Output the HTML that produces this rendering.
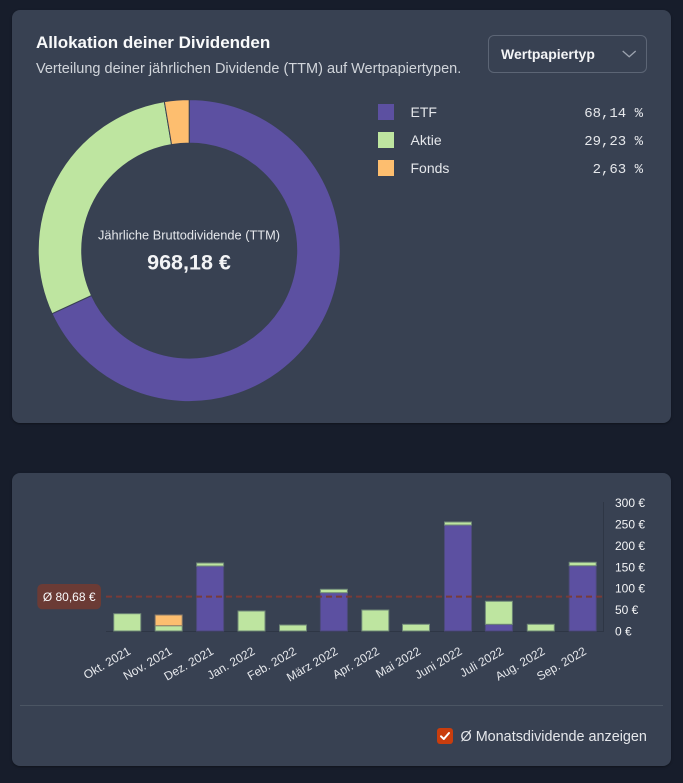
<!DOCTYPE html>
<html><head><meta charset="utf-8"><style>
html,body{margin:0;padding:0;}
body{width:683px;height:783px;background:#171d2b;position:relative;overflow:hidden;font-family:"Liberation Sans",sans-serif;}
.card{position:absolute;background:#384152;border-radius:8px;}
.t{position:absolute;white-space:nowrap;line-height:1;}
</style></head><body>
<div class="card" style="left:12px;top:10px;width:659px;height:413px;box-shadow:0 1px 2px rgba(0,0,0,0.35);"></div>
<div class="card" style="left:12px;top:473px;width:659px;height:293px;box-shadow:0 1px 2px rgba(0,0,0,0.35);"></div>

<div class="t" style="left:36px;top:34px;font-size:17px;font-weight:bold;color:#f9fafb;">Allokation deiner Dividenden</div>
<div class="t" style="left:36px;top:62px;font-size:14.5px;color:#d1d5db;">Verteilung deiner jährlichen Dividende (TTM) auf Wertpapiertypen.</div>

<div style="position:absolute;left:488px;top:35px;width:157px;height:36px;border:1px solid #5c6575;border-radius:6px;"></div>
<div class="t" style="left:501px;top:47px;font-size:14px;font-weight:bold;color:#f3f4f6;">Wertpapiertyp</div>

<svg width="683" height="783" style="position:absolute;left:0;top:0;" xmlns="http://www.w3.org/2000/svg">
  <polyline points="622.7,51 629.2,56.7 635.7,51" fill="none" stroke="#9ca3af" stroke-width="1.3"/>
  <!-- donut -->
  <path d="M189.2,99.6 A151,151 0 1 1 52.02,313.67 L91.54,295.50 A107.5,107.5 0 1 0 189.2,143.1 Z" fill="#5c50a1" stroke="#384152" stroke-width="1"/>
  <path d="M52.02,313.67 A151,151 0 0 1 164.36,101.66 L171.52,144.56 A107.5,107.5 0 0 0 91.54,295.50 Z" fill="#bee5a0" stroke="#384152" stroke-width="1"/>
  <path d="M164.36,101.66 A151,151 0 0 1 189.2,99.6 L189.2,143.1 A107.5,107.5 0 0 0 171.52,144.56 Z" fill="#fdbe6f" stroke="#384152" stroke-width="1"/>
  <text x="189" y="239.5" text-anchor="middle" font-size="12.8" fill="#e5e7eb" font-family="Liberation Sans, sans-serif">Jährliche Bruttodividende (TTM)</text>
  <text x="189" y="269.5" text-anchor="middle" font-size="21.5" font-weight="bold" fill="#f3f4f6" font-family="Liberation Sans, sans-serif">968,18 €</text>

  <!-- legend -->
  <rect x="378" y="104" width="16" height="16" fill="#5c50a1"/>
  <rect x="378" y="132" width="16" height="16" fill="#bee5a0"/>
  <rect x="378" y="160" width="16" height="16" fill="#fdbe6f"/>
  <g font-family="Liberation Sans, sans-serif" font-size="14" fill="#e5e7eb">
    <text x="410.5" y="117">ETF</text>
    <text x="410.5" y="145">Aktie</text>
    <text x="410.5" y="173">Fonds</text>
  </g>
  <g font-family="Liberation Mono, monospace" font-size="14" fill="#e5e7eb" text-anchor="end">
    <text x="643" y="117">68,14 %</text>
    <text x="643" y="145">29,23 %</text>
    <text x="643" y="173">2,63 %</text>
  </g>

  <!-- bar chart axes -->
  <line x1="106" y1="631.5" x2="603" y2="631.5" stroke="#2e3645" stroke-width="1"/>
  <line x1="603.5" y1="502" x2="603.5" y2="632" stroke="#2e3645" stroke-width="1"/>
  <g font-family="Liberation Sans, sans-serif" font-size="12" fill="#f3f4f6">
    <text x="615" y="507">300 €</text>
    <text x="615" y="528.4">250 €</text>
    <text x="615" y="549.8">200 €</text>
    <text x="615" y="571.3">150 €</text>
    <text x="615" y="592.7">100 €</text>
    <text x="615" y="614.1">50 €</text>
    <text x="615" y="635.5">0 €</text>
  </g>

  <!-- bars -->
  <g stroke-width="1">
    <rect x="113.75" y="613.7" width="27" height="17.3" fill="#bee5a0" stroke="#6f8877"/>
    <rect x="155.2" y="625.7" width="27" height="5.3" fill="#bee5a0" stroke="#6f8877"/>
    <rect x="155.2" y="615" width="27" height="10.7" fill="#fdbe6f" stroke="#8b7c6a"/>
    <rect x="196.6" y="566" width="27" height="65" fill="#5c50a1" stroke="#4d4a7c"/>
    <rect x="196.6" y="563" width="27" height="3" fill="#bee5a0" stroke="#6f8877"/>
    <rect x="238" y="611" width="27" height="20" fill="#bee5a0" stroke="#6f8877"/>
    <rect x="279.5" y="625" width="27" height="6" fill="#bee5a0" stroke="#6f8877"/>
    <rect x="320.4" y="592.7" width="27" height="38.3" fill="#5c50a1" stroke="#4d4a7c"/>
    <rect x="320.4" y="589.3" width="27" height="3.4" fill="#bee5a0" stroke="#6f8877"/>
    <rect x="361.8" y="610" width="27" height="21" fill="#bee5a0" stroke="#6f8877"/>
    <rect x="402.5" y="624.3" width="27" height="6.7" fill="#bee5a0" stroke="#6f8877"/>
    <rect x="444.5" y="525" width="27" height="106" fill="#5c50a1" stroke="#4d4a7c"/>
    <rect x="444.5" y="522" width="27" height="3" fill="#bee5a0" stroke="#6f8877"/>
    <rect x="485.4" y="624.3" width="27" height="6.7" fill="#5c50a1" stroke="#4d4a7c"/>
    <rect x="485.4" y="601.3" width="27" height="23" fill="#bee5a0" stroke="#6f8877"/>
    <rect x="527.3" y="624.3" width="27" height="6.7" fill="#bee5a0" stroke="#6f8877"/>
    <rect x="569.2" y="565.7" width="27" height="65.3" fill="#5c50a1" stroke="#4d4a7c"/>
    <rect x="569.2" y="562.3" width="27" height="3.4" fill="#bee5a0" stroke="#6f8877"/>
  </g>

  <!-- average line -->
  <line x1="106" y1="596.6" x2="603" y2="596.6" stroke="#7a3b37" stroke-width="2" stroke-dasharray="6,4"/>
  <rect x="37.3" y="584" width="63.7" height="25.3" rx="5" fill="#6b3b35"/>
  <text x="69.2" y="601" text-anchor="middle" font-family="Liberation Sans, sans-serif" font-size="12" fill="#f9fafb">Ø 80,68 €</text>

  <!-- x labels -->
  <g font-family="Liberation Sans, sans-serif" font-size="12" fill="#e5e7eb" text-anchor="end">
    <text transform="translate(131.5,653.5) rotate(-30)">Okt. 2021</text>
    <text transform="translate(172.9,653.5) rotate(-30)">Nov. 2021</text>
    <text transform="translate(214.4,653.5) rotate(-30)">Dez. 2021</text>
    <text transform="translate(255.8,653.5) rotate(-30)">Jan. 2022</text>
    <text transform="translate(297.2,653.5) rotate(-30)">Feb. 2022</text>
    <text transform="translate(338.7,653.5) rotate(-30)">März 2022</text>
    <text transform="translate(380.1,653.5) rotate(-30)">Apr. 2022</text>
    <text transform="translate(421.5,653.5) rotate(-30)">Mai 2022</text>
    <text transform="translate(462.9,653.5) rotate(-30)">Juni 2022</text>
    <text transform="translate(504.4,653.5) rotate(-30)">Juli 2022</text>
    <text transform="translate(545.8,653.5) rotate(-30)">Aug. 2022</text>
    <text transform="translate(587.2,653.5) rotate(-30)">Sep. 2022</text>
  </g>

  <!-- separator + checkbox -->
  <line x1="20" y1="705.5" x2="663" y2="705.5" stroke="#4b5563" stroke-width="1"/>
  <rect x="437" y="728" width="16" height="16" rx="3" fill="#c93d0d"/>
  <polyline points="441,736.3 443.8,739 449,733" fill="none" stroke="#ffffff" stroke-width="2" stroke-linecap="round" stroke-linejoin="round"/>
  <text x="460.5" y="741" font-family="Liberation Sans, sans-serif" font-size="14.4" fill="#e5e7eb">Ø Monatsdividende anzeigen</text>
</svg>
</body></html>
